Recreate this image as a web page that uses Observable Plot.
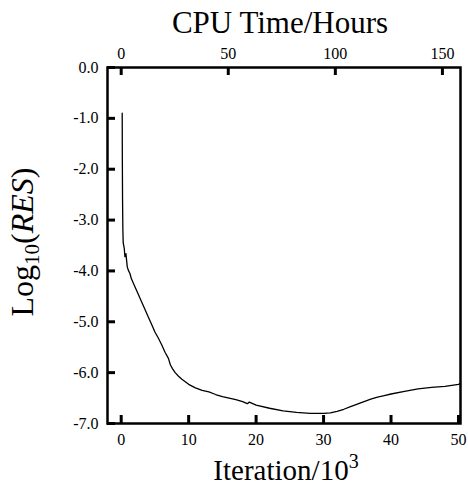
<!DOCTYPE html>
<html>
<head>
<meta charset="utf-8">
<script src="https://cdn.jsdelivr.net/npm/d3@7"></script>
<script src="https://cdn.jsdelivr.net/npm/@observablehq/plot@0.6"></script>
<style>
  html, body { margin: 0; padding: 0; background: white; }
</style>
</head>
<body>
<div id="chart"></div>
<script>
// Residual history (iterations in thousands, log10 of residual)
const iterK = [0.15, 0.17, 0.2, 0.25, 0.3, 0.45, 0.55, 0.7, 0.9, 1.1, 1.3, 1.5, 2.0, 2.5, 3.0, 3.5, 4.0, 4.5, 5.0, 5.5, 6.0, 6.5, 7.0, 7.3, 7.6, 8.0, 8.5, 9.0, 9.5, 10, 11, 12, 13, 14, 15, 16, 17, 18, 18.7, 19, 20, 22, 24, 26, 28, 30, 31, 32, 33, 34, 35, 36, 37, 38, 39, 40, 42, 44, 46, 48, 50, 50.3];
const log10Res = [-0.9, -1.8, -2.6, -3.2, -3.45, -3.55, -3.72, -3.66, -3.92, -4.0, -4.05, -4.15, -4.3, -4.45, -4.6, -4.75, -4.9, -5.05, -5.2, -5.32, -5.45, -5.6, -5.72, -5.85, -5.92, -6.0, -6.07, -6.13, -6.18, -6.23, -6.3, -6.35, -6.38, -6.43, -6.47, -6.5, -6.53, -6.57, -6.61, -6.58, -6.64, -6.7, -6.75, -6.78, -6.8, -6.8, -6.79, -6.76, -6.72, -6.67, -6.62, -6.57, -6.52, -6.48, -6.45, -6.42, -6.37, -6.32, -6.29, -6.27, -6.23, -6.21];

// Axis ticks
const iterTicks = [0, 10, 20, 30, 40, 50];
const cpuHourTicks = [0, 50, 100, 150];
const logTicks = [0, -1, -2, -3, -4, -5, -6, -7];
const cpuHoursPerKIter = 3.15;

const data = iterK.map((x, i) => ({x, y: log10Res[i]}));
const cpuTickPos = cpuHourTicks.map(h => h / cpuHoursPerKIter);

const font = "'Liberation Serif', 'Times New Roman', serif";
const xDomain = [-2.03, 50.3];
const yDomain = [-7, 0];
// inward tick lengths expressed as fractions of the axis span
const tickFracX = 8 / 353, tickFracY = 8 / 356;
const tickDX = (xDomain[1] - xDomain[0]) * tickFracX;
const tickDY = (yDomain[1] - yDomain[0]) * tickFracY;

const svg = Plot.plot({
  width: 468,
  height: 489,
  marginLeft: 107,
  marginRight: 8,
  marginTop: 67,
  marginBottom: 66,
  style: {fontFamily: font, fontSize: "16px", background: "white", color: "black"},
  x: {domain: xDomain},
  y: {domain: yDomain},
  marks: [
    Plot.line(data, {x: "x", y: "y", stroke: "black", strokeWidth: 1.3}),
    Plot.frame({stroke: "black", strokeWidth: 2.5}),
    Plot.ruleY(logTicks, {y: d => d, x1: () => xDomain[0], x2: () => xDomain[0] + tickDX, stroke: "black", strokeWidth: 3}),
    Plot.ruleX(iterTicks, {x: d => d, y1: () => yDomain[0], y2: () => yDomain[0] + tickDY, stroke: "black", strokeWidth: 3}),
    Plot.ruleX(cpuTickPos, {x: d => d, y1: () => yDomain[1], y2: () => yDomain[1] - tickDY, stroke: "black", strokeWidth: 3}),
    Plot.axisY({anchor: "left", ticks: logTicks, tickSize: 0, tickPadding: 9, tickFormat: d => d.toFixed(1), label: null, fontSize: 16, fontFamily: font}),
    Plot.axisX({anchor: "bottom", ticks: iterTicks, tickSize: 0, tickPadding: 10, tickFormat: d => String(d), label: null, fontSize: 16, fontFamily: font}),
    Plot.axisX({anchor: "top", ticks: cpuTickPos, tickSize: 0, tickPadding: 9, tickFormat: d => String(Math.round(d * cpuHoursPerKIter)), label: null, fontSize: 16, fontFamily: font})
  ]
});

const s = d3.select(svg);
// Title
s.append("text")
  .attr("x", 280).attr("y", 33)
  .attr("text-anchor", "middle")
  .style("font-family", font).style("font-size", "31px").attr("fill", "black")
  .text("CPU Time/Hours");

// X label
const xl = s.append("text")
  .attr("x", 286).attr("y", 480)
  .attr("text-anchor", "middle")
  .style("font-family", font).style("font-size", "29px").attr("fill", "black");
xl.append("tspan").text("Iteration/10");
xl.append("tspan").attr("dy", -12).style("font-size", "20px").text("3");

// Y label
const yl = s.append("text")
  .attr("transform", "translate(33,242) rotate(-90)")
  .attr("text-anchor", "middle")
  .style("font-family", font).style("font-size", "32px").attr("fill", "black");
yl.append("tspan").text("Log");
yl.append("tspan").attr("dy", 6).style("font-size", "21px").text("10");
yl.append("tspan").attr("dy", -6).text("(");
yl.append("tspan").style("font-style", "italic").text("RES");
yl.append("tspan").text(")");

document.getElementById("chart").appendChild(svg);
</script>
</body>
</html>
